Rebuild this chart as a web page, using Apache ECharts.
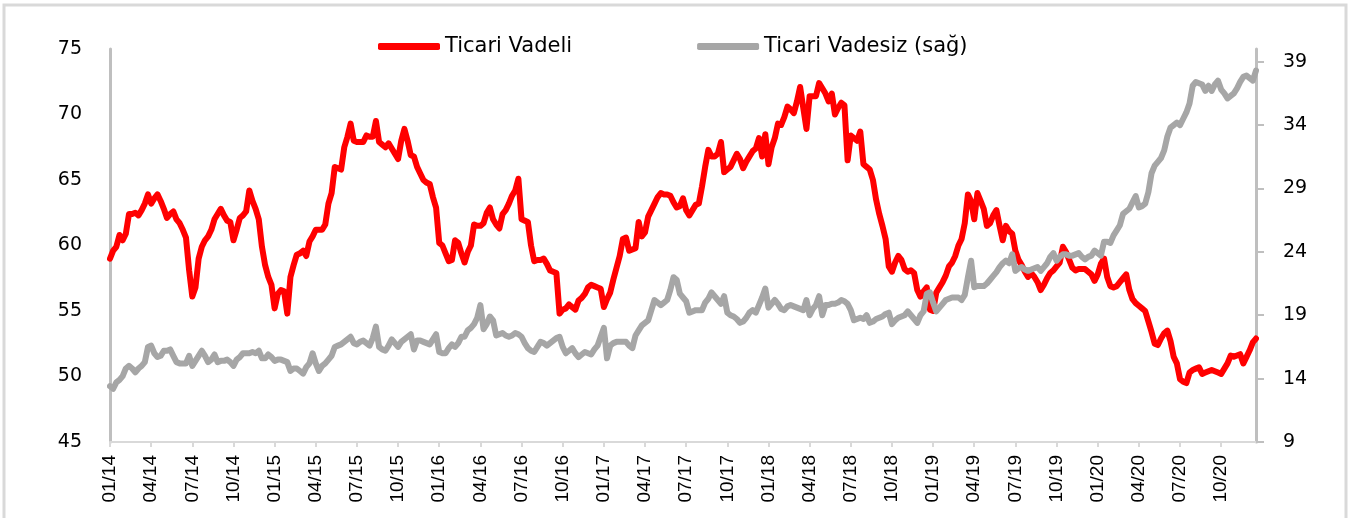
<!DOCTYPE html>
<html>
<head>
<meta charset="utf-8">
<script src="https://cdn.jsdelivr.net/npm/echarts@6/dist/echarts.min.js"></script>
<style>
  html, body { margin: 0; padding: 0; background: #fff; }
  #chart { width: 1353px; height: 518px; }
</style>
</head>
<body>
<div id="chart"></div>
<script>
// weekly observations, Jan 2014 - Dec 2020 (one row = 13 weeks)
const vadeli = [
  59.0, 59.6, 59.9, 60.8, 60.4, 60.9, 62.4, 62.4, 62.5, 62.3, 62.7, 63.2, 63.9,
  63.2, 63.6, 63.9, 63.4, 62.8, 62.1, 62.4, 62.6, 62.0, 61.7, 61.2, 60.6, 58.1,
  56.1, 56.8, 59.0, 59.9, 60.4, 60.7, 61.2, 62.0, 62.4, 62.8, 62.3, 61.9, 61.8,
  60.4, 61.2, 62.1, 62.3, 62.6, 64.2, 63.4, 62.8, 62.0, 59.9, 58.5, 57.6, 57.0,
  55.2, 56.3, 56.6, 56.5, 54.8, 57.6, 58.5, 59.3, 59.4, 59.6, 59.2, 60.3, 60.7,
  61.2, 61.2, 61.2, 61.6, 63.2, 64.0, 66.0, 65.9, 65.8, 67.5, 68.3, 69.3, 68.0,
  67.9, 67.9, 67.9, 68.4, 68.3, 68.3, 69.5, 67.9, 67.7, 67.5, 67.8, 67.4, 67.0,
  66.6, 68.0, 68.9, 68.0, 66.9, 66.8, 66.0, 65.5, 65.0, 64.8, 64.7, 63.7, 62.9,
  60.2, 60.0, 59.4, 58.8, 58.9, 60.4, 60.2, 59.4, 58.7, 59.5, 60.0, 61.6, 61.5,
  61.5, 61.7, 62.5, 62.9, 62.0, 61.6, 61.3, 62.4, 62.7, 63.2, 63.8, 64.2, 65.1,
  62.0, 61.9, 61.8, 60.0, 58.8, 58.9, 58.9, 59.0, 58.6, 58.1, 58.0, 57.9, 54.8,
  55.1, 55.2, 55.5, 55.3, 55.1, 55.8, 56.0, 56.3, 56.8, 57.0, 56.9, 56.8, 56.7,
  55.3, 55.9, 56.4, 57.4, 58.3, 59.2, 60.5, 60.6, 59.6, 59.7, 59.8, 61.8, 60.7,
  61.0, 62.2, 62.7, 63.2, 63.7, 64.0, 63.9, 63.9, 63.8, 63.3, 62.9, 63.0, 63.6,
  62.7, 62.3, 62.7, 63.1, 63.2, 64.5, 66.0, 67.3, 66.8, 66.8, 67.0, 67.9, 65.6,
  65.8, 66.0, 66.5, 67.0, 66.6, 65.9, 66.4, 66.8, 67.2, 67.4, 68.2, 66.8, 68.5,
  66.2, 67.5, 68.2, 69.3, 69.2, 69.8, 70.6, 70.4, 70.1, 71.0, 72.1, 70.5, 68.9,
  71.4, 71.4, 71.4, 72.4, 72.0, 71.6, 71.0, 71.6, 70.0, 70.5, 70.9, 70.7, 66.5,
  68.4, 68.2, 68.0, 68.7, 66.2, 66.0, 65.8, 65.0, 63.5, 62.4, 61.5, 60.5, 58.4,
  58.0, 58.7, 59.2, 58.9, 58.2, 58.0, 58.1, 57.9, 56.6, 56.1, 56.5, 56.8, 55.1,
  55.0, 56.4, 56.8, 57.2, 57.7, 58.4, 58.7, 59.2, 60.0, 60.5, 61.7, 63.9, 63.4,
  62.0, 64.0, 63.4, 62.8, 61.5, 61.7, 62.3, 62.7, 61.5, 60.4, 61.5, 61.1, 60.9,
  59.6, 58.9, 58.5, 58.0, 57.6, 57.9, 57.6, 57.2, 56.6, 57.0, 57.5, 57.9, 58.1,
  58.4, 58.7, 59.9, 59.5, 58.9, 58.3, 58.1, 58.2, 58.2, 58.2, 58.0, 57.8, 57.3,
  57.8, 58.6, 59.0, 57.6, 56.9, 56.8, 56.9, 57.2, 57.5, 57.8, 56.6, 55.9, 55.6,
  55.4, 55.2, 55.0, 54.2, 53.4, 52.5, 52.4, 52.9, 53.3, 53.5, 52.7, 51.5, 51.0,
  49.8, 49.6, 49.5, 50.3, 50.5, 50.6, 50.7, 50.2, 50.3, 50.4, 50.5, 50.4, 50.3,
  50.2, 50.6, 51.0, 51.6, 51.5, 51.6, 51.7, 51.0, 51.5, 52.0, 52.6, 52.9
]

const vadesiz = [
  13.4, 13.2, 13.7, 13.9, 14.2, 14.8, 15.0, 14.8, 14.5, 14.8, 15.0, 15.3, 16.5,
  16.6, 16.0, 15.7, 15.8, 16.2, 16.2, 16.3, 15.8, 15.3, 15.2, 15.2, 15.2, 15.8,
  15.0, 15.4, 15.8, 16.2, 15.8, 15.3, 15.5, 15.9, 15.3, 15.4, 15.4, 15.5, 15.3,
  15.0, 15.5, 15.7, 16.0, 16.0, 16.0, 16.1, 16.0, 16.2, 15.6, 15.6, 15.9, 15.7,
  15.4, 15.5, 15.5, 15.4, 15.3, 14.6, 14.8, 14.8, 14.6, 14.4, 14.9, 15.2, 16.0,
  15.2, 14.6, 15.0, 15.2, 15.5, 15.8, 16.5, 16.6, 16.7, 16.9, 17.1, 17.3, 16.8,
  16.7, 16.9, 17.0, 16.8, 16.6, 17.2, 18.1, 16.5, 16.3, 16.2, 16.6, 17.1, 16.8,
  16.5, 16.9, 17.1, 17.3, 17.5, 16.3, 17.0, 17.0, 16.9, 16.8, 16.7, 17.1, 17.5,
  16.1, 16.0, 16.0, 16.4, 16.7, 16.5, 16.8, 17.3, 17.3, 17.8, 18.0, 18.3, 18.8,
  19.8, 17.9, 18.3, 18.9, 18.6, 17.4, 17.5, 17.6, 17.4, 17.3, 17.4, 17.6, 17.5,
  17.3, 16.8, 16.4, 16.2, 16.1, 16.5, 16.9, 16.8, 16.6, 16.8, 17.0, 17.2, 17.3,
  16.5, 16.0, 16.2, 16.4, 16.0, 15.7, 15.9, 16.1, 16.0, 15.9, 16.3, 16.6, 17.3,
  18.0, 15.6, 16.6, 16.8, 16.9, 16.9, 16.9, 16.9, 16.6, 16.4, 17.4, 17.8, 18.2,
  18.4, 18.6, 19.4, 20.2, 20.0, 19.8, 20.0, 20.2, 21.0, 22.0, 21.8, 20.7, 20.4,
  20.1, 19.2, 19.3, 19.4, 19.4, 19.4, 20.0, 20.3, 20.8, 20.5, 20.2, 19.9, 20.5,
  19.2, 19.0, 18.9, 18.7, 18.4, 18.5, 18.8, 19.2, 19.4, 19.2, 19.8, 20.4, 21.1,
  19.6, 19.9, 20.2, 19.9, 19.5, 19.4, 19.7, 19.8, 19.7, 19.6, 19.5, 19.4, 20.2,
  19.0, 19.5, 19.8, 20.5, 19.0, 19.8, 19.8, 19.9, 19.9, 20.0, 20.2, 20.1, 19.9,
  19.4, 18.6, 18.7, 18.8, 18.7, 19.0, 18.4, 18.5, 18.7, 18.8, 18.9, 19.1, 19.2,
  18.3, 18.6, 18.8, 18.9, 19.0, 19.3, 19.0, 18.7, 18.4, 19.0, 19.3, 20.7, 20.8,
  20.0, 19.3, 19.6, 19.9, 20.2, 20.3, 20.4, 20.4, 20.4, 20.2, 20.6, 22.0, 23.3,
  21.2, 21.3, 21.3, 21.3, 21.5, 21.8, 22.1, 22.4, 22.8, 23.1, 23.3, 23.1, 23.8,
  22.5, 22.7, 22.8, 22.6, 22.5, 22.6, 22.7, 22.8, 22.5, 22.8, 23.1, 23.6, 23.9,
  23.3, 23.6, 23.8, 23.8, 23.7, 23.7, 23.8, 23.9, 23.6, 23.4, 23.6, 23.7, 24.1,
  23.9, 23.7, 24.8, 24.8, 24.7, 25.3, 25.7, 26.1, 27.0, 27.2, 27.4, 27.9, 28.4,
  27.5, 27.6, 27.8, 28.7, 30.2, 30.8, 31.1, 31.4, 32.0, 33.1, 33.8, 34.0, 34.2,
  34.0, 34.5, 35.0, 35.7, 37.1, 37.4, 37.3, 37.2, 36.7, 37.1, 36.7, 37.2, 37.5,
  36.8, 36.5, 36.1, 36.3, 36.5, 36.9, 37.4, 37.8, 37.9, 37.7, 37.5, 38.3
]

const tickLabels = [
  '01/14', '04/14', '07/14', '10/14', '01/15', '04/15', '07/15', '10/15',
  '01/16', '04/16', '07/16', '10/16', '01/17', '04/17', '07/17', '10/17',
  '01/18', '04/18', '07/18', '10/18', '01/19', '04/19', '07/19', '10/19',
  '01/20', '04/20', '07/20', '10/20'
]
const rightTicks = [9, 14, 19, 24, 29, 34, 39]

// one category per week
const weeks = []
const start = new Date(2014, 0, 3)
for (let i = 0; i < vadeli.length; i++) {
  const d = new Date(start.getTime() + i * 7 * 86400000)
  weeks.push(d.toISOString().slice(0, 10))
}

const chart = echarts.init(document.getElementById('chart'))

chart.setOption({
  animation: false,
  backgroundColor: '#fff',
  graphic: [{
    type: 'rect',
    shape: { x: 4, y: 5, width: 1342, height: 530 },
    style: { fill: 'none', stroke: '#d9d9d9', lineWidth: 3 },
    silent: true
  }],
  legend: {
    left: 373,
    top: 31,
    itemWidth: 62,
    itemHeight: 7,
    itemGap: 125,
    icon: 'roundRect',
    textStyle: { fontFamily: 'DejaVu Sans', fontSize: 21, color: '#000' },
    data: ['Ticari Vadeli', 'Ticari Vadesiz (sağ)']
  },
  grid: { left: 110, right: 97, top: 49, bottom: 76 },
  xAxis: {
    type: 'category',
    data: weeks,
    boundaryGap: false,
    axisLine: { lineStyle: { color: '#d9d9d9', width: 2 } },
    axisTick: { interval: 12, length: 5, lineStyle: { color: '#d9d9d9', width: 2 } },
    axisLabel: {
      interval: 12,
      rotate: 90,
      margin: 13,
      fontFamily: 'Liberation Sans',
      fontSize: 19,
      color: '#000',
      formatter: (v, i) => tickLabels[Math.round(i / 13)] || ''
    },
    splitLine: { show: false }
  },
  yAxis: [{
    type: 'value',
    min: 45,
    max: 75,
    interval: 5,
    axisLine: { show: true, lineStyle: { color: '#bfbfbf', width: 3 } },
    axisTick: { show: false },
    axisLabel: { margin: 28, fontFamily: 'DejaVu Sans', fontSize: 19, color: '#000' },
    splitLine: { show: false }
  }, {
    type: 'value',
    min: 9,
    max: 40,
    interval: 5,
    position: 'right',
    axisLine: { show: true, lineStyle: { color: '#bfbfbf', width: 3 } },
    axisTick: { show: true, length: 8, customValues: rightTicks, lineStyle: { color: '#bfbfbf', width: 2 } },
    axisLabel: {
      margin: 27,
      customValues: rightTicks,
      fontFamily: 'DejaVu Sans',
      fontSize: 19,
      color: '#000'
    },
    splitLine: { show: false }
  }],
  series: [{
    name: 'Ticari Vadeli',
    type: 'line',
    yAxisIndex: 0,
    data: vadeli,
    symbol: 'none',
    color: '#ff0000',
    lineStyle: { width: 6, color: '#ff0000', cap: 'round', join: 'round' }
  }, {
    name: 'Ticari Vadesiz (sağ)',
    type: 'line',
    yAxisIndex: 1,
    data: vadesiz,
    symbol: 'none',
    color: '#a6a6a6',
    lineStyle: { width: 6, color: '#a6a6a6', cap: 'round', join: 'round' }
  }]
})
</script>
</body>
</html>
